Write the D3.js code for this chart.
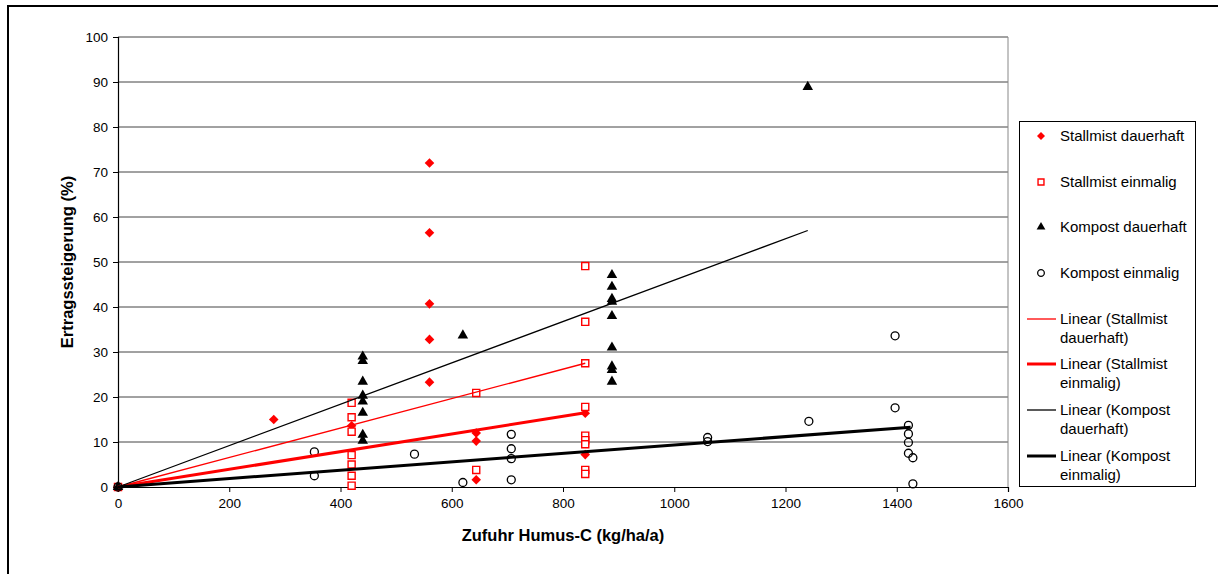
<!DOCTYPE html>
<html>
<head>
<meta charset="utf-8">
<script src="https://cdn.jsdelivr.net/npm/d3@7"></script>
<style>
  body { margin: 0; background: #fff; }
  svg text { font-family: "Liberation Sans", Arial, sans-serif; fill: #000; }
</style>
</head>
<body>
<svg id="chart" width="1218" height="574"></svg>
<script>

//Data
var xTicks = [0, 200, 400, 600, 800, 1000, 1200, 1400, 1600];
var yTicks = [0, 10, 20, 30, 40, 50, 60, 70, 80, 90, 100];

var stallmistDauerX = [0, 280, 420, 560, 560, 560, 560, 560, 644, 644, 644, 840, 840];
var stallmistDauerY = [0, 15, 13.6, 72, 56.5, 40.7, 32.8, 23.3, 12, 10.2, 1.6, 16.4, 7.2];

var stallmistEinmX = [0, 420, 420, 420, 420, 420, 420, 420, 644, 644, 840, 840, 840, 840, 840, 840, 840, 840, 840];
var stallmistEinmY = [0, 18.7, 15.5, 12.3, 7.1, 5.0, 2.5, 0.3, 20.9, 3.8, 49.1, 36.7, 27.5, 17.8, 11.4, 10.4, 9.5, 3.8, 2.9];

var kompostDauerX = [0, 440, 440, 440, 440, 440, 440, 440, 440, 620, 888, 888, 888, 888, 888, 888, 888, 888, 888, 1240];
var kompostDauerY = [0, 29, 28, 23.4, 20.3, 19, 16.5, 11.6, 10.3, 33.7, 47.1, 44.5, 41.8, 41.2, 38, 31, 26.8, 26, 23.4, 88.9];

var kompostEinmX = [0, 353, 353, 533, 620, 707, 707, 707, 707, 1060, 1060, 1242, 1397, 1397, 1421, 1421, 1421, 1421, 1429, 1429];
var kompostEinmY = [0, 7.8, 2.5, 7.3, 1.0, 11.7, 8.5, 6.3, 1.6, 11, 10.1, 14.6, 33.6, 17.6, 13.7, 11.8, 9.9, 7.5, 6.5, 0.7];

// trend lines: start and end value of each fitted line
var trendNames = ["Linear (Stallmist dauerhaft)", "Linear (Stallmist einmalig)", "Linear (Kompost dauerhaft)", "Linear (Kompost einmalig)"];
var trendX = [[0, 840], [0, 840], [0, 1240], [0, 1425]];
var trendY = [[0, 27.5], [0, 16.5], [0, 57], [0, 13.3]];

var seriesNames = ["Stallmist dauerhaft", "Stallmist einmalig", "Kompost dauerhaft", "Kompost einmalig"];


var margin = {top: 37, left: 118};
var width = 890;
var height = 450;

var svg = d3.select("#chart");

// outer chart frame
svg.append("rect")
  .attr("x", 8).attr("y", 6)
  .attr("width", 1240).attr("height", 620)
  .attr("fill", "#fff")
  .attr("stroke", "#000")
  .attr("stroke-width", 2);

var g = svg.append("g")
  .attr("transform", "translate(" + margin.left + "," + margin.top + ")");

var xScale = d3.scaleLinear().domain([0, 1600]).range([0, width]);
var yScale = d3.scaleLinear().domain([0, 100]).range([height, 0]);

// gridlines
g.append("g").attr("class", "grid")
  .selectAll("line")
  .data(yTicks.filter(d => d > 0))
  .join("line")
    .attr("x1", 0).attr("x2", width)
    .attr("y1", d => yScale(d)).attr("y2", d => yScale(d))
    .attr("stroke", "#444")
    .attr("stroke-width", 1);

// right border of plot area
g.append("line")
  .attr("x1", width).attr("x2", width)
  .attr("y1", 0).attr("y2", height)
  .attr("stroke", "#888")
  .attr("stroke-width", 1);

var gX = g.append("g")
  .attr("transform", "translate(0," + height + ")")
  .call(d3.axisBottom(xScale).tickValues(xTicks).tickSize(5).tickPadding(6).tickFormat(d3.format("d")));

var gY = g.append("g")
  .call(d3.axisLeft(yScale).tickValues(yTicks).tickSize(5).tickPadding(5).tickFormat(d3.format("d")));

[gX, gY].forEach(a => {
  a.select(".domain").attr("stroke", "#000").attr("stroke-width", 1.2);
  a.selectAll(".tick line").attr("stroke", "#000");
  a.selectAll(".tick text").style("font-size", "13.5px").attr("fill", "#000");
});

// axis titles
svg.append("text")
  .attr("x", margin.left + width / 2).attr("y", 541)
  .attr("text-anchor", "middle")
  .style("font-size", "16.5px").style("font-weight", "bold")
  .text("Zufuhr Humus-C (kg/ha/a)");

svg.append("text")
  .attr("transform", "translate(73," + (margin.top + height / 2) + ") rotate(-90)")
  .attr("text-anchor", "middle")
  .style("font-size", "16.5px").style("font-weight", "bold")
  .text("Ertragssteigerung (%)");

// marker shapes (diamond = square turned 45 degrees)
var markerStyles = [
  {shape: d3.symbolSquare, rot: 45, size: 46, fill: "#ff0000", stroke: "none", sw: 0},
  {shape: d3.symbolSquare, rot: 0, size: 50, fill: "#fff", stroke: "#ff0000", sw: 1.4},
  {shape: d3.symbolTriangle, rot: 0, size: 48, fill: "#000", stroke: "none", sw: 0},
  {shape: d3.symbolCircle, rot: 0, size: 50, fill: "none", stroke: "#000", sw: 1.3}
];

var seriesX = [stallmistDauerX, stallmistEinmX, kompostDauerX, kompostEinmX];
var seriesY = [stallmistDauerY, stallmistEinmY, kompostDauerY, kompostEinmY];

seriesX.forEach((xs, i) => {
  var st = markerStyles[i];
  var pts = xs.map((x, j) => [x, seriesY[i][j]]);
  g.append("g")
    .selectAll("path")
    .data(pts)
    .join("path")
      .attr("transform", d => "translate(" + xScale(d[0]) + "," + yScale(d[1]) + ") rotate(" + st.rot + ")")
      .attr("d", d3.symbol().type(st.shape).size(st.size))
      .attr("fill", st.fill)
      .attr("stroke", st.stroke)
      .attr("stroke-width", st.sw);
});

// trend lines
var trendStyles = [
  {color: "#ff0000", w: 1.3},
  {color: "#ff0000", w: 3},
  {color: "#000", w: 1.3},
  {color: "#000", w: 3}
];

var lineGen = d3.line()
  .x(d => xScale(d[0]))
  .y(d => yScale(d[1]));

trendX.forEach((xs, i) => {
  g.append("path")
    .attr("d", lineGen(xs.map((x, j) => [x, trendY[i][j]])))
    .attr("fill", "none")
    .attr("stroke", trendStyles[i].color)
    .attr("stroke-width", trendStyles[i].w);
});

// legend
var legend = svg.append("g");
legend.append("rect")
  .attr("x", 1019.5).attr("y", 121.5)
  .attr("width", 176).attr("height", 365)
  .attr("fill", "#fff")
  .attr("stroke", "#000")
  .attr("stroke-width", 1);

var markerRowsY = [136, 182, 227, 273];
seriesNames.forEach((name, i) => {
  var st = markerStyles[i];
  legend.append("path")
    .attr("transform", "translate(1041," + markerRowsY[i] + ") rotate(" + st.rot + ")")
    .attr("d", d3.symbol().type(st.shape).size(st.size * 0.7))
    .attr("fill", st.fill)
    .attr("stroke", st.stroke)
    .attr("stroke-width", st.sw);
  legend.append("text")
    .attr("x", 1060).attr("y", markerRowsY[i] + 5)
    .style("font-size", "15px")
    .text(name);
});

var lineRowsY = [319, 364, 410, 456];
trendNames.forEach((name, i) => {
  legend.append("line")
    .attr("x1", 1027).attr("x2", 1056)
    .attr("y1", lineRowsY[i]).attr("y2", lineRowsY[i])
    .attr("stroke", trendStyles[i].color)
    .attr("stroke-width", trendStyles[i].w);
  var parts = name.split(" ");
  var t = legend.append("text")
    .attr("x", 1060).attr("y", lineRowsY[i] + 5)
    .style("font-size", "15px");
  t.append("tspan").attr("x", 1060).text(parts[0] + " " + parts[1]);
  t.append("tspan").attr("x", 1060).attr("dy", 19).text(parts[2]);
});

</script>
</body>
</html>
